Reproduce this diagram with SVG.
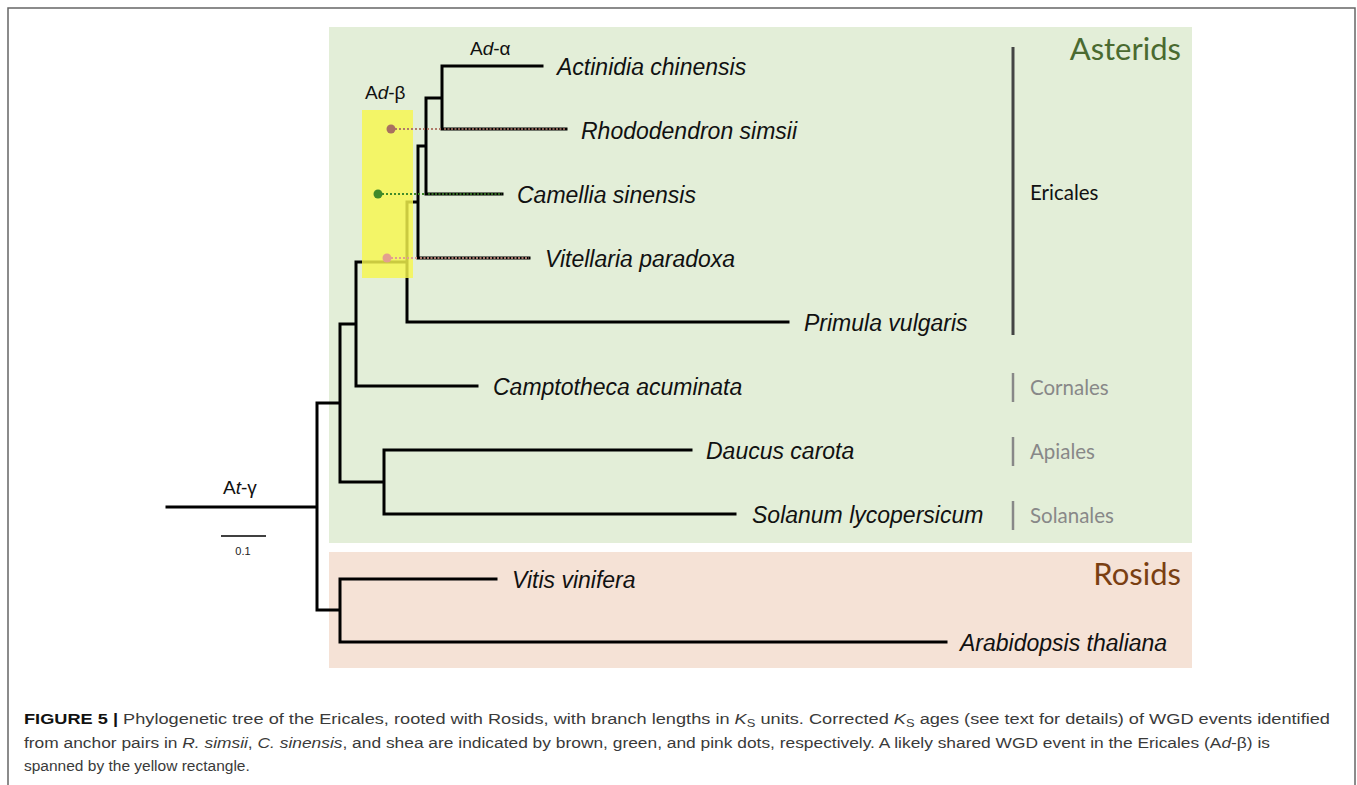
<svg xmlns="http://www.w3.org/2000/svg" width="1357" height="785" viewBox="0 0 1357 785">
<style>
.br{fill:none;stroke:#000;stroke-width:3;stroke-linecap:square}
.sp{font-family:"Liberation Sans",Arial,sans-serif;font-style:italic;font-size:23px;fill:#111}
.ev{font-family:"Liberation Sans",Arial,sans-serif;font-size:19px;fill:#111}
.ord{font-family:Lato,"Open Sans",sans-serif;font-size:20.5px}
.cap{font-family:"Liberation Sans",Arial,sans-serif;font-size:15.5px;fill:#3a3a3a}
</style>
<rect x="8" y="8" width="1347" height="790" fill="#fff" stroke="#666" stroke-width="1.5"/>
<g id="clade-asterids">
<rect x="329" y="27" width="863" height="516" fill="#e3eed8"/>
<text x="1181" y="60" text-anchor="end" font-family="Lato,'Open Sans',sans-serif" font-size="31" fill="#4a6a30">Asterids</text>
</g>
<g id="clade-rosids">
<rect x="329" y="552" width="863" height="116" fill="#f5e2d6"/>
<text x="1181" y="585" text-anchor="end" font-family="Lato,'Open Sans',sans-serif" font-size="31" fill="#7a3f12">Rosids</text>
</g>
<g id="connectors">
<path class="br" d="M167,507H317M317,403V610M317,403H340M340,324V482M340,324H356M356,262V386M356,386H477M356,262H407M407,202V322M407,322H788M407,202H418M418,146V258M418,258H529M418,146H426M426,98V194M426,194H502M426,98H442M442,66V129M442,66H542M442,129H566M340,482H384M384,450V514M384,450H691M384,514H735M317,610H340M340,579V642M340,579H496M340,642H946"/>
<line x1="444" y1="129" x2="566" y2="129" stroke="#b07a6a" stroke-width="1.5" stroke-dasharray="2 1.5"/>
<line x1="428" y1="194" x2="502" y2="194" stroke="#3f8a2a" stroke-width="1.5" stroke-dasharray="2 1.5"/>
<line x1="420" y1="258" x2="529" y2="258" stroke="#e0a090" stroke-width="1.5" stroke-dasharray="2 1.5"/>
<line x1="221" y1="536" x2="266" y2="536" stroke="#000" stroke-width="1.5"/>
</g>
<g id="wgd-ad-beta">
<rect x="362" y="110" width="51" height="168" fill="#f6f74e" fill-opacity="0.82"/>
<line x1="391" y1="129" x2="442" y2="129" stroke="#b07a6a" stroke-width="2" stroke-dasharray="2 2"/>
<line x1="378" y1="194" x2="426" y2="194" stroke="#3f8a2a" stroke-width="2" stroke-dasharray="2 2"/>
<line x1="387" y1="258" x2="418" y2="258" stroke="#e0a090" stroke-width="2" stroke-dasharray="2 2"/>
<circle cx="391" cy="129" r="4.5" fill="#a87060"/>
<circle cx="378" cy="194" r="4.5" fill="#3f8a2a"/>
<circle cx="387" cy="258" r="4.5" fill="#e3a08e"/>
<text class="ev" x="365" y="99">A<tspan font-style="italic">d</tspan>-β</text>
</g>
<g id="wgd-ad-alpha"><text class="ev" x="470" y="55">A<tspan font-style="italic">d</tspan>-α</text></g>
<g id="wgd-at-gamma"><text class="ev" x="223" y="494">A<tspan font-style="italic">t</tspan>-γ</text></g>
<g id="scale"><text x="243" y="555" text-anchor="middle" font-family="'Liberation Sans',Arial,sans-serif" font-size="11" fill="#222">0.1</text></g>
<g id="leaf-actinidia"><text class="sp" x="557" y="75">Actinidia chinensis</text></g>
<g id="leaf-rhododendron"><text class="sp" x="581" y="139">Rhododendron simsii</text></g>
<g id="leaf-camellia"><text class="sp" x="517" y="203">Camellia sinensis</text></g>
<g id="leaf-vitellaria"><text class="sp" x="545" y="267">Vitellaria paradoxa</text></g>
<g id="leaf-primula"><text class="sp" x="804" y="331">Primula vulgaris</text></g>
<g id="leaf-camptotheca"><text class="sp" x="493" y="395">Camptotheca acuminata</text></g>
<g id="leaf-daucus"><text class="sp" x="706" y="459">Daucus carota</text></g>
<g id="leaf-solanum"><text class="sp" x="752" y="523">Solanum lycopersicum</text></g>
<g id="leaf-vitis"><text class="sp" x="512" y="588">Vitis vinifera</text></g>
<g id="leaf-arabidopsis"><text class="sp" x="960" y="651">Arabidopsis thaliana</text></g>
<g id="order-ericales">
<line x1="1013" y1="47" x2="1013" y2="335" stroke="#444" stroke-width="3"/>
<text class="ord" x="1030" y="200" fill="#111">Ericales</text>
</g>
<g id="order-cornales">
<line x1="1013" y1="373" x2="1013" y2="402" stroke="#888" stroke-width="2.5"/>
<text class="ord" x="1030" y="395" fill="#888">Cornales</text>
</g>
<g id="order-apiales">
<line x1="1013" y1="437" x2="1013" y2="466" stroke="#888" stroke-width="2.5"/>
<text class="ord" x="1030" y="459" fill="#888">Apiales</text>
</g>
<g id="order-solanales">
<line x1="1013" y1="501" x2="1013" y2="530" stroke="#888" stroke-width="2.5"/>
<text class="ord" x="1030" y="523" fill="#888">Solanales</text>
</g>
<g id="caption">
<text class="cap" x="24" y="724" textLength="1306" lengthAdjust="spacingAndGlyphs"><tspan font-weight="bold" fill="#111">FIGURE 5 |</tspan> Phylogenetic tree of the Ericales, rooted with Rosids, with branch lengths in <tspan font-style="italic">K</tspan><tspan font-size="11" dy="3">S</tspan><tspan dy="-3"> units. Corrected </tspan><tspan font-style="italic">K</tspan><tspan font-size="11" dy="3">S</tspan><tspan dy="-3"> ages (see text for details) of WGD events identified</tspan></text>
<text class="cap" x="24" y="748" textLength="1246" lengthAdjust="spacingAndGlyphs">from anchor pairs in <tspan font-style="italic">R. simsii</tspan>, <tspan font-style="italic">C. sinensis</tspan>, and shea are indicated by brown, green, and pink dots, respectively. A likely shared WGD event in the Ericales (A<tspan font-style="italic">d</tspan>-β) is</text>
<text class="cap" x="24" y="771">spanned by the yellow rectangle.</text>
</g>
</svg>
